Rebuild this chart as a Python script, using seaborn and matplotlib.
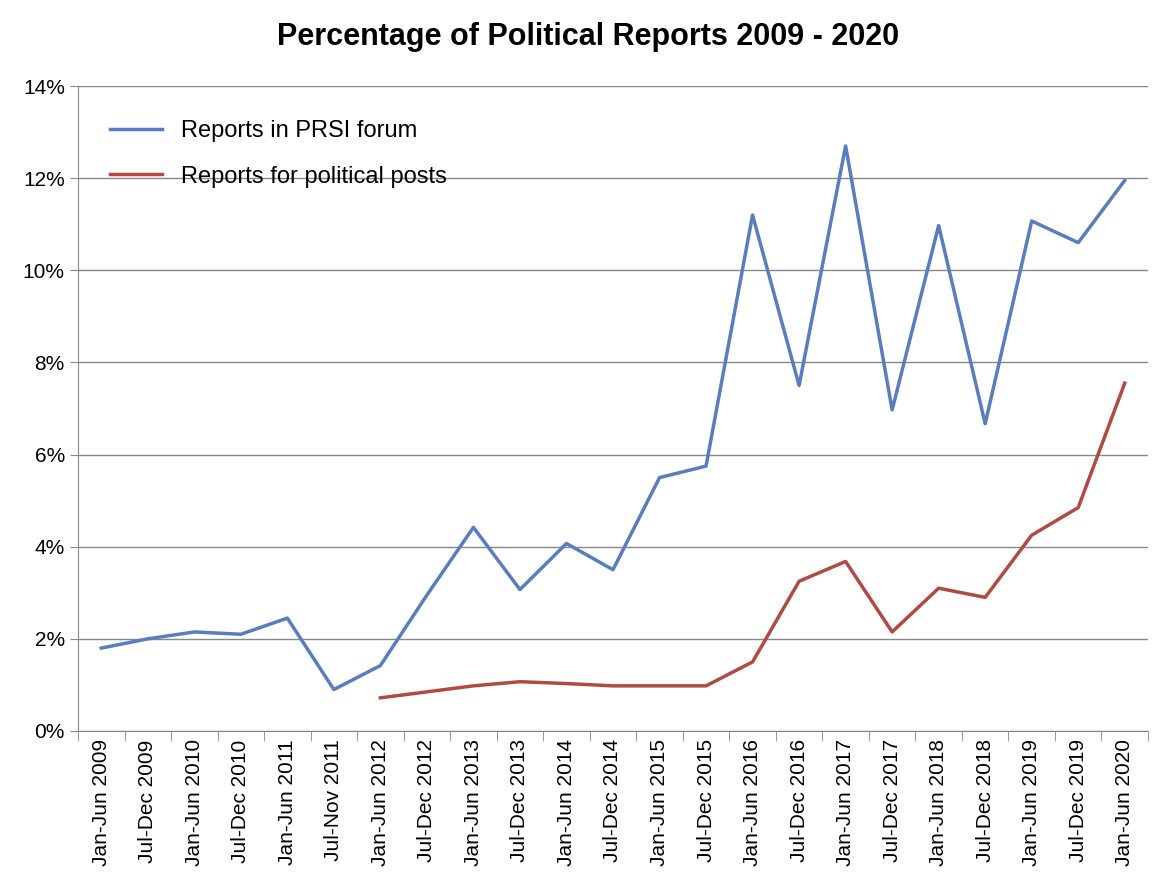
import matplotlib
matplotlib.use("Agg")
import matplotlib.pyplot as plt
import seaborn as sns
import pandas as pd
import numpy as np
from matplotlib.ticker import FuncFormatter, FixedLocator

periods = ["Jan-Jun 2009","Jul-Dec 2009","Jan-Jun 2010","Jul-Dec 2010","Jan-Jun 2011","Jul-Nov 2011",
           "Jan-Jun 2012","Jul-Dec 2012","Jan-Jun 2013","Jul-Dec 2013","Jan-Jun 2014","Jul-Dec 2014",
           "Jan-Jun 2015","Jul-Dec 2015","Jan-Jun 2016","Jul-Dec 2016","Jan-Jun 2017","Jul-Dec 2017",
           "Jan-Jun 2018","Jul-Dec 2018","Jan-Jun 2019","Jul-Dec 2019","Jan-Jun 2020"]
prsi = [1.8,2.0,2.15,2.1,2.45,0.9,1.42,2.95,4.42,3.07,4.07,3.5,5.5,5.75,11.2,7.5,12.7,6.97,10.97,6.67,11.07,10.6,11.95]
political = [None]*6 + [0.72,0.85,0.98,1.07,1.03,0.98,0.98,0.98,1.5,3.25,3.68,2.15,3.1,2.9,4.25,4.85,7.55]

plt.rcParams["font.family"] = "Liberation Sans"
df = pd.DataFrame({"x": np.arange(len(periods)),
                   "Reports in PRSI forum": prsi,
                   "Reports for political posts": [np.nan if v is None else v for v in political]})
long = df.melt(id_vars="x", var_name="series", value_name="val").dropna()

fig = plt.figure(figsize=(11.76, 8.86), dpi=100)
ax = fig.add_axes([78/1176, 1-731/886, (1148-78)/1176, (731-86)/886])
sns.lineplot(data=long, x="x", y="val", hue="series", palette=["#5B7DBE", "#B04A45"], linewidth=2.5, ax=ax)
ax.set_xlim(-0.5, len(periods)-0.5)
ax.set_ylim(0, 14)
ax.set_yticks(range(0, 15, 2))
ax.yaxis.set_major_formatter(FuncFormatter(lambda v, p: f"{int(v)}%"))
ax.grid(axis="y", color="#888888", linewidth=1)
ax.set_axisbelow(True)
ax.set_xticks(range(len(periods)))
ax.set_xticklabels(periods, rotation=90, fontsize=15)
ax.xaxis.set_minor_locator(FixedLocator(np.arange(-0.5, len(periods), 1)))
ax.tick_params(axis="x", which="major", length=0, pad=6)
ax.tick_params(axis="x", which="minor", length=7, color="#888888")
ax.tick_params(axis="y", labelsize=15, length=6, color="#888888")
for s in ["top", "right"]:
    ax.spines[s].set_visible(False)
for s in ["left", "bottom"]:
    ax.spines[s].set_color("#888888")
ax.set_xlabel(""); ax.set_ylabel("")
ax.legend(loc="upper left", frameon=False, fontsize=17, handlelength=2.2, bbox_to_anchor=(0.01, 0.98), labelspacing=1.0, title=None)
fig.suptitle("Percentage of Political Reports 2009 - 2020", fontsize=22, fontweight="bold", y=0.975)
fig.savefig("out.png", dpi=100, facecolor="white")
